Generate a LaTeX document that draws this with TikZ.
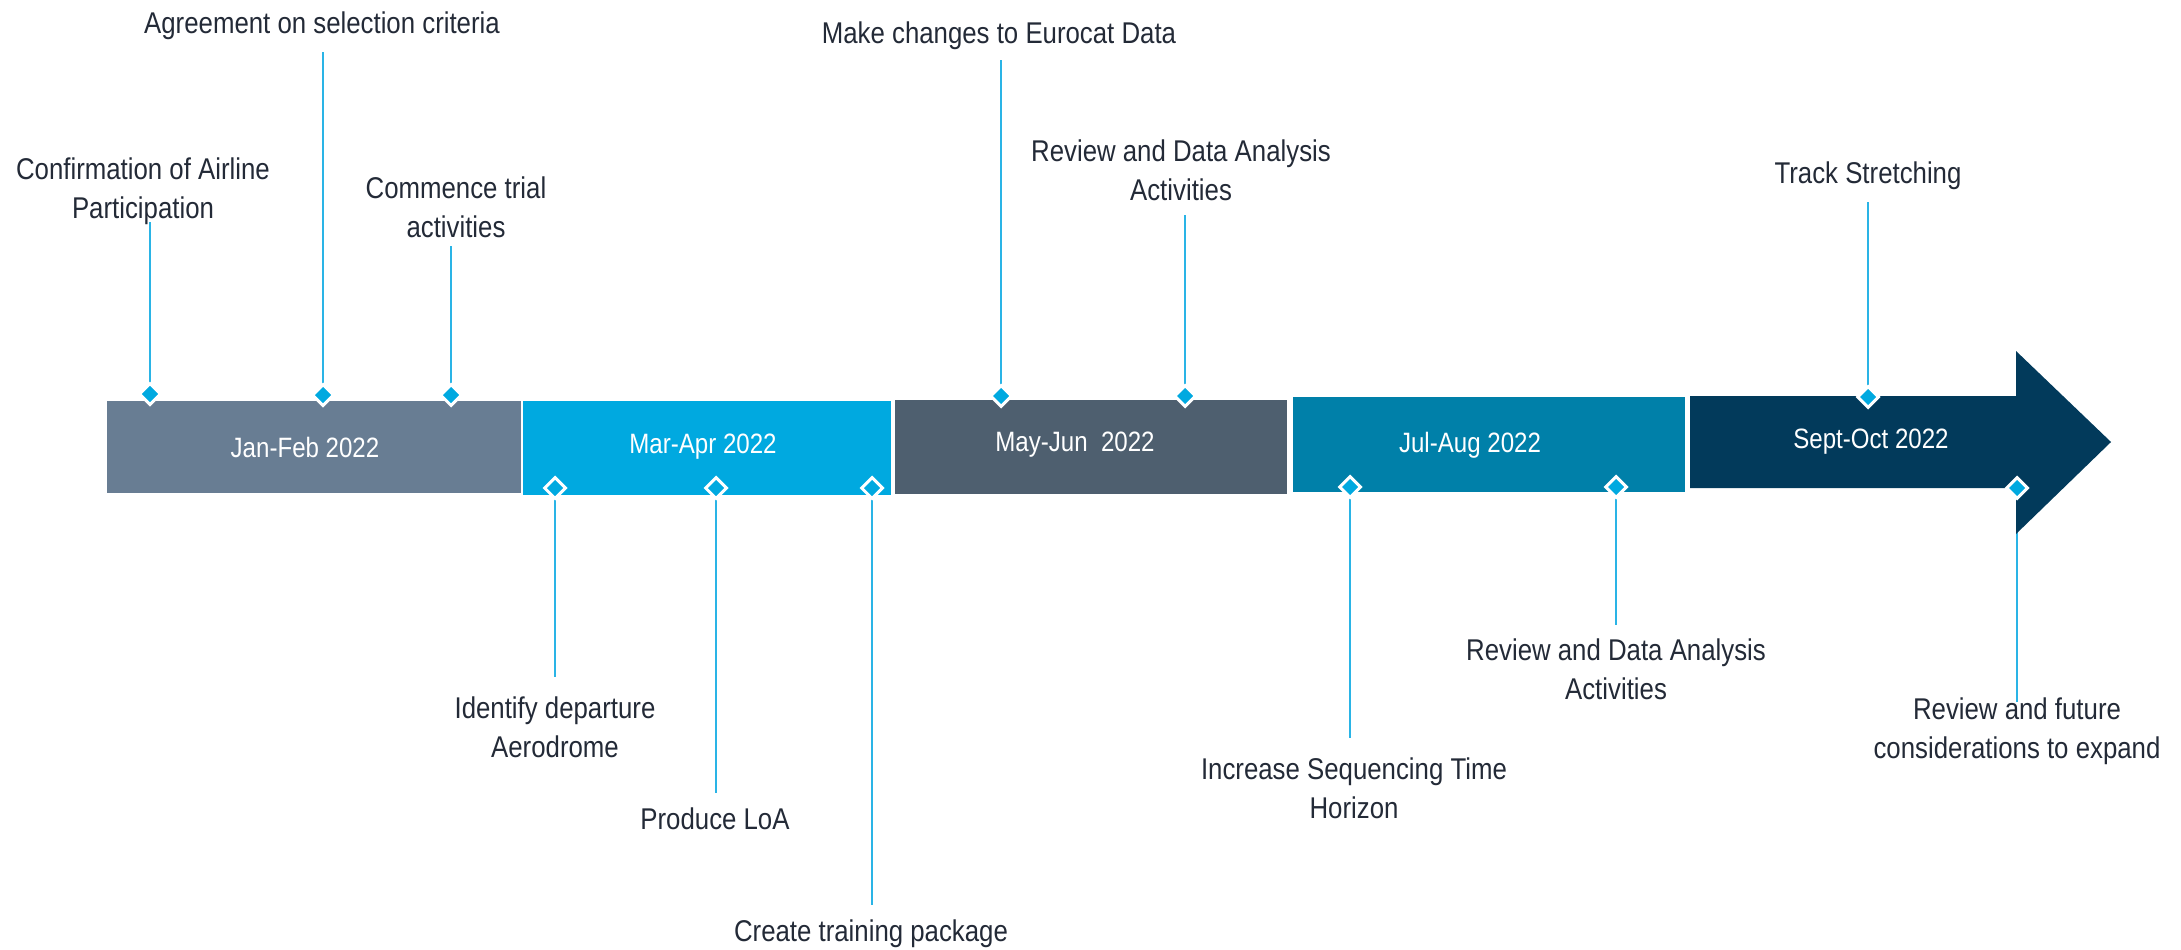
\documentclass[tikz,border=0pt]{standalone}
\usepackage{fontspec}
\setmainfont{Liberation Sans}[FakeStretch=0.86]
\usetikzlibrary{shapes.geometric}

\definecolor{ink}{HTML}{232A37}
\definecolor{mark}{HTML}{00A9E0}
\definecolor{stem}{HTML}{2AB4E6}
\definecolor{cJanFeb}{HTML}{687D93}
\definecolor{cMarApr}{HTML}{00A9E0}
\definecolor{cMayJun}{HTML}{4E5F6F}
\definecolor{cJulAug}{HTML}{0080A9}
\definecolor{cSepOct}{HTML}{023A5B}

\begin{document}
\begin{tikzpicture}[x=1pt,y=-1pt,
  lbl/.style={font=\fontsize{30}{39}\selectfont, text=ink, align=center,
              inner sep=0pt, anchor=north},
  plbl/.style={font=\fontsize{28}{34}\selectfont, text=white, inner sep=0pt},
  phasebox/.style={inner sep=0pt, draw=none},
  ms/.style={diamond, aspect=1, fill=mark, draw=white, line width=3pt,
             minimum width=22pt, minimum height=22pt, inner sep=0pt},
  conn/.style={draw=stem, line width=1.5pt}]

\useasboundingbox (0,0) rectangle (2181,950);

% milestone markers (placed first so connectors can refer to them)
\path
  (150,394)  coordinate (m1)
  (323,395)  coordinate (m2)
  (451,395)  coordinate (m3)
  (1001,396) coordinate (m4)
  (1185,396) coordinate (m5)
  (1868,397) coordinate (m6)
  (555,488)  coordinate (m7)
  (716,488)  coordinate (m8)
  (872,488)  coordinate (m9)
  (1350,487) coordinate (m10)
  (1616,487) coordinate (m11)
  (2017,488) coordinate (m12);

% milestone texts
\node[lbl] (l1)  at (143,158)  {Confirmation of Airline\\Participation};
\node[lbl] (l2)  at (322,12)   {Agreement on selection criteria};
\node[lbl] (l3)  at (456,177)  {Commence trial\\activities};
\node[lbl] (l4)  at (999,22)   {Make changes to Eurocat Data};
\node[lbl] (l5)  at (1181,140) {Review and Data Analysis\\Activities};
\node[lbl] (l6)  at (1868,162) {Track Stretching};
\node[lbl] (l7)  at (555,697)  {Identify departure\\Aerodrome};
\node[lbl] (l8)  at (715,808)  {Produce LoA};
\node[lbl] (l9)  at (871,920)  {Create training package};
\node[lbl] (l10) at (1354,758) {Increase Sequencing Time\\Horizon};
\node[lbl] (l11) at (1616,639) {Review and Data Analysis\\Activities};
\node[lbl] (l12) at (2017,698) {Review and future\\considerations to expand};

% stems from the markers to their texts
\draw[conn, shorten >=-3pt] (m1)  -- (m1 |- l1.south);
\draw[conn, shorten >=12pt] (m2)  -- (m2 |- l2.south);
\draw[conn, shorten >=8pt]  (m3)  -- (m3 |- l3.south);
\draw[conn, shorten >=10pt] (m4)  -- (m4 |- l4.south);
\draw[conn, shorten >=14pt] (m5)  -- (m5 |- l5.south);
\draw[conn, shorten >=12pt] (m6)  -- (m6 |- l6.south);
\draw[conn, shorten >=20pt] (m7)  -- (m7 |- l7.north);
\draw[conn, shorten >=15pt] (m8)  -- (m8 |- l8.north);
\draw[conn, shorten >=15pt] (m9)  -- (m9 |- l9.north);
\draw[conn, shorten >=20pt] (m10) -- (m10 |- l10.north);
\draw[conn, shorten >=14pt] (m11) -- (m11 |- l11.north);
\draw[conn, shorten >=-4pt] (m12) -- (m12 |- l12.north);

% phase bars
\node[phasebox, fill=cJanFeb, minimum width=414pt, minimum height=92pt] (pJan) at (314,447) {};
\node[phasebox, fill=cMarApr, minimum width=368pt, minimum height=94pt] (pMar) at (707,448) {};
\node[phasebox, fill=cMayJun, minimum width=392pt, minimum height=94pt] (pMay) at (1091,447) {};
\node[phasebox, fill=cJulAug, minimum width=392pt, minimum height=95pt] (pJul) at (1489,444.5) {};
\fill[cSepOct] (1690,396) -- (2016,396) -- (2016,351) -- (2111,442)
  -- (2016,534) -- (2016,488) -- (1690,488) -- cycle;

\node[plbl] (tJan) at (305,447)  {Jan-Feb 2022};
\node[plbl] (tMar) at (703,447)  {Mar-Apr 2022};
\node[plbl] (tMay) at (1075,445) {May-Jun\ \ 2022};
\node[plbl] (tJul) at (1470,445) {Jul-Aug 2022};
\node[plbl] (tSep) at (1871,442) {Sept-Oct 2022};

% diamonds on top
\foreach \i in {1,...,12} \node[ms] (d\i) at (m\i) {};

\end{tikzpicture}
\end{document}
